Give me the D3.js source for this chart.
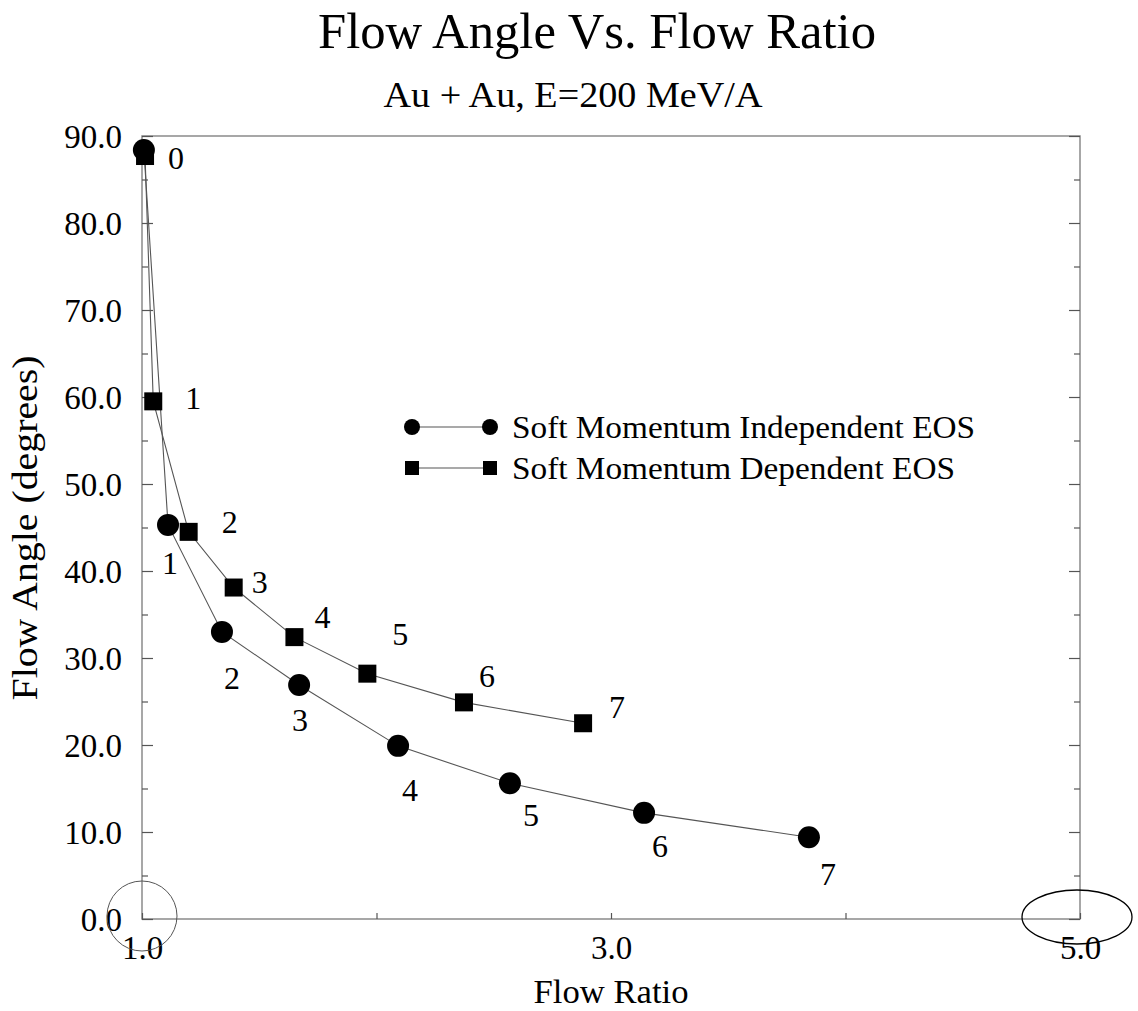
<!DOCTYPE html>
<html>
<head>
<meta charset="utf-8">
<script src="https://cdn.jsdelivr.net/npm/d3@7"></script>
<style>
  body { margin: 0; background: #fff; }
  svg { display: block; }
  text { font-family: "Liberation Serif", "Times New Roman", serif; fill: #000; }
</style>
</head>
<body>
<svg id="chart" width="1138" height="1011"></svg>
<script>
// ---- Data ----
const stepLabels = ["0", "1", "2", "3", "4", "5", "6", "7"];
const indepRatio = [1.008, 1.111, 1.341, 1.670, 2.092, 2.569, 3.141, 3.844];
const indepAngle = [88.4, 45.3, 33.0, 26.9, 19.9, 15.6, 12.2, 9.4];
const depRatio = [1.013, 1.048, 1.199, 1.391, 1.650, 1.961, 2.373, 2.881];
const depAngle = [87.7, 59.5, 44.5, 38.1, 32.4, 28.2, 24.9, 22.5];
const seriesNames = ["Soft Momentum Independent EOS", "Soft Momentum Dependent EOS"];
const xTickValues = [1, 2, 3, 4, 5];
const xTickLabels = ["1.0", "", "3.0", "", "5.0"];
const yTickValues = [0, 10, 20, 30, 40, 50, 60, 70, 80, 90];
const yMinorTicks = [5, 15, 25, 35, 45, 55, 65, 75, 85];
const titleText = "Flow Angle Vs. Flow Ratio";
const subtitleText = "Au + Au, E=200 MeV/A";
const xTitle = "Flow Ratio";
const yTitle = "Flow Angle (degrees)";

// label offsets (px) for point annotations (style only)
const indepLabelOff = [[32, 8], [2, 38], [10, 46], [1, 35], [12, 44], [21, 32], [16, 33], [19, 37]];
const depLabelOff = [null, [40, -4], [41, -10], [26, -6], [28, -20], [33, -40], [23, -27], [34, -16]];

function stretchTo(sel, width) {
  sel.attr("textLength", width).attr("lengthAdjust", "spacingAndGlyphs");
}

// ---- Layout ----
const svg = d3.select("#chart");
const L = 142, R = 1080, T = 136, B = 919;
const x = d3.scaleLinear().domain([1, 5]).range([L, R]);
const y = d3.scaleLinear().domain([0, 90]).range([B, T]);
const axisColor = "#8a8a8a";
const tickColor = "#555";

// frame
svg.append("rect").attr("x", L).attr("y", T).attr("width", R - L).attr("height", B - T)
  .attr("fill", "none").attr("stroke", axisColor).attr("stroke-width", 1.5);

// axes (ticks pointing inward)
const fmt = d3.format(".1f");
const yLeft = svg.append("g").attr("transform", `translate(${L},0)`)
  .call(d3.axisLeft(y).tickValues(yTickValues).tickSize(-11).tickPadding(20).tickFormat(fmt));
const yRight = svg.append("g").attr("transform", `translate(${R},0)`)
  .call(d3.axisRight(y).tickValues(yTickValues).tickSize(-11).tickFormat(""));
const yLeftMinor = svg.append("g").attr("transform", `translate(${L},0)`)
  .call(d3.axisLeft(y).tickValues(yMinorTicks).tickSize(-6).tickFormat(""));
const yRightMinor = svg.append("g").attr("transform", `translate(${R},0)`)
  .call(d3.axisRight(y).tickValues(yMinorTicks).tickSize(-6).tickFormat(""));
const xBottom = svg.append("g").attr("transform", `translate(0,${B})`)
  .call(d3.axisBottom(x).tickValues(xTickValues).tickSize(-6).tickPadding(17)
    .tickFormat((d, i) => xTickLabels[i]));

[yLeft, yRight, yLeftMinor, yRightMinor, xBottom].forEach(g => {
  g.select(".domain").remove();
  g.selectAll(".tick line").attr("stroke", tickColor).attr("stroke-width", 1.2);
  g.selectAll(".tick text").style("font-family", '"Liberation Serif", serif')
    .style("font-size", "33px").attr("fill", "#000");
});
yLeft.selectAll(".tick text").attr("dy", "0.34em");
xBottom.selectAll(".tick text").attr("dy", "0.71em");

// titles
svg.append("text").attr("x", 597).attr("y", 48).attr("text-anchor", "middle")
  .style("font-size", "50px").text(titleText).call(stretchTo, 558);
svg.append("text").attr("x", 573).attr("y", 107).attr("text-anchor", "middle")
  .style("font-size", "36px").text(subtitleText).call(stretchTo, 379);
svg.append("text").attr("x", 611).attr("y", 1003).attr("text-anchor", "middle")
  .style("font-size", "34px").text(xTitle).call(stretchTo, 155);
svg.append("text").attr("transform", `translate(37,528) rotate(-90)`).attr("text-anchor", "middle")
  .style("font-size", "36px").text(yTitle).call(stretchTo, 345);

// series data
const indep = indepRatio.map((v, i) => ({ x: v, y: indepAngle[i], lab: stepLabels[i], off: indepLabelOff[i] }));
const dep = depRatio.map((v, i) => ({ x: v, y: depAngle[i], lab: stepLabels[i], off: depLabelOff[i] }));

const line = d3.line().x(d => x(d.x)).y(d => y(d.y));
svg.append("path").datum(indep).attr("d", line).attr("fill", "none")
  .attr("stroke", "#555").attr("stroke-width", 1.1);
svg.append("path").datum(dep).attr("d", line).attr("fill", "none")
  .attr("stroke", "#555").attr("stroke-width", 1.1);

const sq = 18;
svg.append("g").selectAll("rect").data(dep).join("rect")
  .attr("x", d => x(d.x) - sq / 2).attr("y", d => y(d.y) - sq / 2)
  .attr("width", sq).attr("height", sq).attr("fill", "#000");
svg.append("g").selectAll("circle").data(indep).join("circle")
  .attr("cx", d => x(d.x)).attr("cy", d => y(d.y)).attr("r", 11).attr("fill", "#000");

// point labels
svg.append("g").selectAll("text").data(indep).join("text")
  .attr("x", d => x(d.x) + d.off[0]).attr("y", d => y(d.y) + d.off[1])
  .attr("text-anchor", "middle").attr("dy", "0.35em").style("font-size", "32px")
  .text(d => d.lab);
svg.append("g").selectAll("text").data(dep.filter(d => d.off)).join("text")
  .attr("x", d => x(d.x) + d.off[0]).attr("y", d => y(d.y) + d.off[1])
  .attr("text-anchor", "middle").attr("dy", "0.35em").style("font-size", "32px")
  .text(d => d.lab);

// legend
const lg = svg.append("g").attr("transform", "translate(412,427)");
lg.append("line").attr("x1", 0).attr("x2", 78).attr("y1", 0).attr("y2", 0).attr("stroke", "#555").attr("stroke-width", 1.1);
lg.append("circle").attr("cx", 0).attr("cy", 0).attr("r", 8).attr("fill", "#000");
lg.append("circle").attr("cx", 78).attr("cy", 0).attr("r", 8).attr("fill", "#000");
lg.append("text").attr("x", 100).attr("y", 0).attr("dy", "0.35em").style("font-size", "32px")
  .text(seriesNames[0]).call(stretchTo, 463);
lg.append("line").attr("x1", 0).attr("x2", 78).attr("y1", 41).attr("y2", 41).attr("stroke", "#555").attr("stroke-width", 1.1);
lg.append("rect").attr("x", -7).attr("y", 34).attr("width", 14).attr("height", 14).attr("fill", "#000");
lg.append("rect").attr("x", 71).attr("y", 34).attr("width", 14).attr("height", 14).attr("fill", "#000");
lg.append("text").attr("x", 100).attr("y", 41).attr("dy", "0.35em").style("font-size", "32px")
  .text(seriesNames[1]).call(stretchTo, 443);

// annotation shapes at the axis corners
svg.append("circle").attr("cx", x(1)).attr("cy", y(0) - 3).attr("r", 35)
  .attr("fill", "none").attr("stroke", "#555").attr("stroke-width", 1);
svg.append("ellipse").attr("cx", x(5) - 3).attr("cy", y(0) - 2).attr("rx", 55).attr("ry", 27)
  .attr("fill", "none").attr("stroke", "#000").attr("stroke-width", 1.3);
</script>
</body>
</html>
